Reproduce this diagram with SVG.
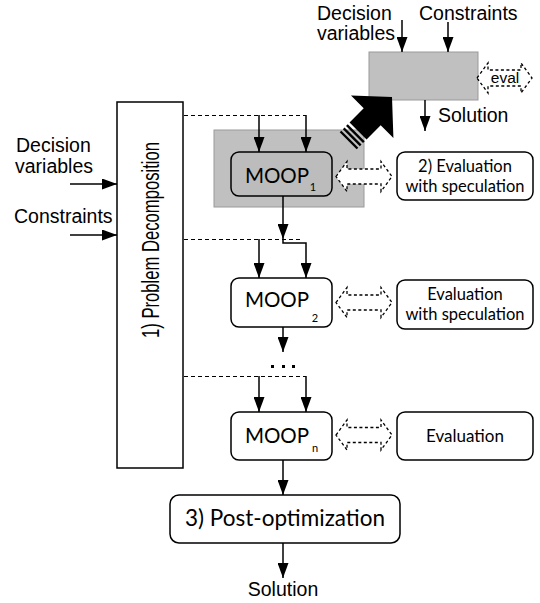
<svg xmlns="http://www.w3.org/2000/svg" width="540" height="603" viewBox="0 0 540 603">
<defs>
<style>
.ln{stroke:#000;stroke-width:1.5;fill:none}
.dash{stroke:#000;stroke-width:1.2;stroke-dasharray:4 3;fill:none}
.box{fill:#fff;stroke:#000;stroke-width:1.5}
.gray{fill:#c0c0c0;stroke:#9a9a9a;stroke-width:1}
.ar{font-family:"Liberation Sans",Arial,sans-serif;font-size:19.5px;fill:#000}
.cb{font-family:Lato,"Open Sans",sans-serif;fill:#000}
.ev{fill:#fff;stroke:#000;stroke-width:1.3;stroke-dasharray:3 2.5}
</style>
<marker id="ah" viewBox="0 0 15 11" refX="15" refY="5.5" markerWidth="15" markerHeight="11" markerUnits="userSpaceOnUse" orient="auto"><path d="M0,0 L15,5.5 L0,11 z" fill="#000"/></marker>
</defs>
<rect width="540" height="603" fill="#fff"/>

<g id="decomposition">
<rect x="117" y="102" width="66" height="366" class="box"/>
<text class="ar" style="font-size:23px" transform="translate(158.5,240) rotate(-90)" text-anchor="middle" textLength="196" lengthAdjust="spacingAndGlyphs">1) Problem Decomposition</text>
</g>

<g id="inputs-left">
<text class="ar" x="16" y="152">Decision</text>
<text class="ar" x="15" y="173">variables</text>
<text class="ar" x="14" y="223">Constraints</text>
</g>

<g id="speculation-region">
<rect x="214" y="130" width="150" height="77" class="gray"/>
</g>

<g id="moop1">
<rect x="231" y="152" width="101" height="44" rx="8" fill="#bcbcbc" stroke="#000" stroke-width="1.5"/>
<text class="cb" x="277" y="183" font-size="20.5" text-anchor="middle">MOOP</text>
<text class="cb" x="313" y="191" font-size="11" text-anchor="middle">1</text>
</g>

<g id="eval1">
<rect x="397" y="152" width="136" height="48" rx="8" class="box"/>
<text class="cb" x="465" y="172" font-size="16.5" text-anchor="middle">2) Evaluation</text>
<text class="cb" x="465" y="191.5" font-size="16.5" text-anchor="middle">with speculation</text>
</g>

<g id="moop2">
<rect x="231" y="278" width="101" height="49" rx="8" class="box"/>
<text class="cb" x="277" y="307" font-size="20.5" text-anchor="middle">MOOP</text>
<text class="cb" x="315" y="322" font-size="11" text-anchor="middle">2</text>
</g>

<g id="eval2">
<rect x="397" y="280" width="136" height="49" rx="8" class="box"/>
<text class="cb" x="465" y="300" font-size="16.5" text-anchor="middle">Evaluation</text>
<text class="cb" x="465" y="320" font-size="16.5" text-anchor="middle">with speculation</text>
</g>

<g id="moopn">
<rect x="231" y="412" width="101" height="48" rx="8" class="box"/>
<text class="cb" x="277" y="443" font-size="20.5" text-anchor="middle">MOOP</text>
<text class="cb" x="315" y="452" font-size="11" text-anchor="middle">n</text>
</g>

<g id="evaln">
<rect x="397" y="412" width="136" height="48" rx="8" class="box"/>
<text class="cb" x="465" y="442" font-size="17" text-anchor="middle">Evaluation</text>
</g>

<g id="postopt">
<rect x="170" y="495" width="230" height="48" rx="9" class="box"/>
<text class="cb" x="285" y="526" font-size="22.5" text-anchor="middle">3) Post-optimization</text>
</g>

<g id="solution-bottom">
<text class="ar" x="283" y="596" text-anchor="middle">Solution</text>
</g>

<g id="subproblem">
<rect x="369" y="52" width="109" height="48" class="gray"/>
<text class="ar" x="317" y="20">Decision</text>
<text class="ar" x="317" y="40">variables</text>
<text class="ar" x="419" y="20">Constraints</text>
<text class="ar" x="438" y="122">Solution</text>
</g>

<g id="eval-top">
<polygon class="ev" points="477,78 488,63 488,70 521,70 521,63 532,78 521,93 521,86 488,86 488,93"/>
<text x="505" y="83" font-family="Liberation Sans,Arial,sans-serif" font-size="15.5" text-anchor="middle">eval</text>
</g>

<g id="connectors">
<line class="ln" x1="70" y1="184" x2="117" y2="184" marker-end="url(#ah)"/>
<line class="ln" x1="70" y1="235" x2="117" y2="235" marker-end="url(#ah)"/>
<line class="dash" x1="184" y1="115.5" x2="306" y2="115.5"/>
<line class="dash" x1="184" y1="239.5" x2="302" y2="239.5"/>
<line class="dash" x1="184" y1="376.5" x2="306" y2="376.5"/>
<line class="ln" x1="259" y1="115" x2="259" y2="152" marker-end="url(#ah)"/>
<line class="ln" x1="306" y1="115" x2="306" y2="152" marker-end="url(#ah)"/>
<line class="ln" x1="283" y1="196" x2="283" y2="239" marker-end="url(#ah)"/>
<path class="ln" d="M283,239 V243 H306 V278" marker-end="url(#ah)"/>
<line class="ln" x1="259" y1="239" x2="259" y2="278" marker-end="url(#ah)"/>
<line class="ln" x1="283" y1="327" x2="283" y2="352" marker-end="url(#ah)"/>
<g fill="#000">
<rect x="271" y="365" width="3" height="3"/>
<rect x="282" y="365" width="3" height="3"/>
<rect x="292" y="365" width="3" height="3"/>
</g>
<line class="ln" x1="259" y1="376" x2="259" y2="412" marker-end="url(#ah)"/>
<line class="ln" x1="306" y1="376" x2="306" y2="412" marker-end="url(#ah)"/>
<line class="ln" x1="283" y1="460" x2="283" y2="495" marker-end="url(#ah)"/>
<line class="ln" x1="283" y1="543" x2="283" y2="578" marker-end="url(#ah)"/>
<line class="ln" x1="402" y1="20" x2="402" y2="52" marker-end="url(#ah)"/>
<line class="ln" x1="448" y1="22" x2="448" y2="52" marker-end="url(#ah)"/>
<line class="ln" x1="425" y1="100" x2="425" y2="131" marker-end="url(#ah)"/>
<polygon class="ev" points="336,176.5 347,161.5 347,169 381,169 381,161.5 392,176.5 381,191.5 381,184 347,184 347,191.5"/>
<polygon class="ev" points="336,302.5 347,287.5 347,295 381,295 381,287.5 392,302.5 381,317.5 381,310 347,310 347,317.5"/>
<polygon class="ev" points="336,435 347,420 347,427.5 381,427.5 381,420 392,435 381,450 381,442.5 347,442.5 347,450"/>
<g transform="translate(392,97) rotate(-45)" fill="#000">
<polygon points="0,0 -28,-30 -28,-12 -48,-12 -48,12 -28,12 -28,30"/>
<rect x="-53" y="-12" width="2.4" height="24"/>
<rect x="-57.5" y="-12" width="2.4" height="24"/>
<rect x="-62" y="-12" width="2.4" height="24"/>
</g>
</g>
</svg>
